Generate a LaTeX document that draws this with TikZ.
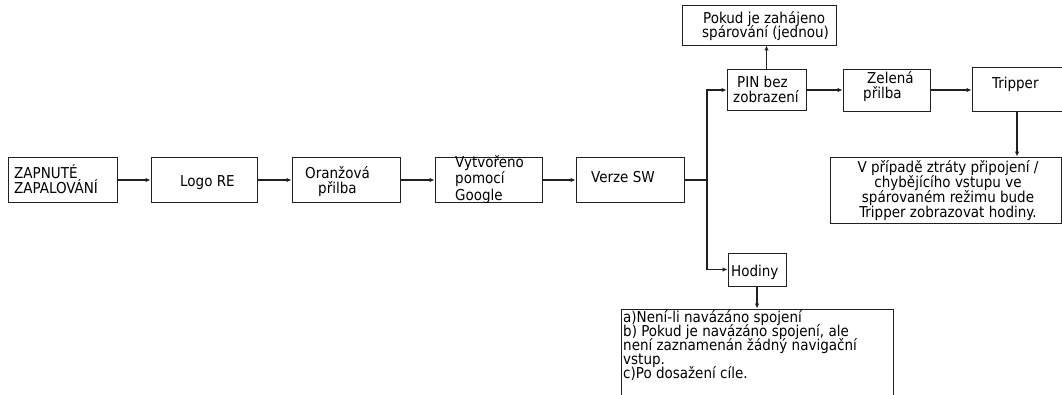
\documentclass[tikz,border=0pt]{standalone}
\usepackage{fontspec}
\setmainfont{DejaVu Sans Condensed}
\usetikzlibrary{arrows.meta}
\definecolor{ink}{HTML}{231F20}
\begin{document}
\begin{tikzpicture}[x=1pt,y=-1pt,
  box/.style={draw=ink,line width=0.9pt,rectangle,inner sep=0pt},
  txt/.style={anchor=base west,inner sep=0pt,font=\fontsize{15}{15}\selectfont,text=black},
  ctxt/.style={anchor=base,inner sep=0pt,font=\fontsize{15}{15}\selectfont,text=black},
  conn/.style={draw=ink,line width=1.3pt,-{Latex[length=5pt,width=4.5pt]}},
  plain/.style={draw=ink,line width=1.3pt}]
\clip (0,0) rectangle (1062,394);
% boxes
\node[box,minimum width=109pt,minimum height=45pt] (zap) at (62.5,180) {};
\node[box,minimum width=106pt,minimum height=45pt] (logo) at (204,180) {};
\node[box,minimum width=108pt,minimum height=45pt] (oran) at (346,180) {};
\node[box,minimum width=107pt,minimum height=45pt] (vytv) at (488.5,180) {};
\node[box,minimum width=108pt,minimum height=45pt] (verze) at (630,180) {};
\node[box,minimum width=79pt,minimum height=41pt] (pin) at (766.5,90) {};
\node[box,minimum width=154pt,minimum height=40pt] (pokud) at (759,25) {};
\node[box,minimum width=87pt,minimum height=42pt] (zel) at (886.5,90) {};
\node[box,minimum width=90pt,minimum height=44pt] (trip) at (1017,89) {};
\node[box,minimum width=231pt,minimum height=66pt] (vbox) at (945.5,190) {};
\node[box,minimum width=58pt,minimum height=33pt] (hod) at (757,269.5) {};
\node[box,minimum width=272pt,minimum height=100pt] (big) at (757,359) {};
% texts
\node[txt] (t1a) at (14,178) {ZAPNUTÉ};
\node[txt] (t1b) at (14,193) {ZAPALOVÁNÍ};
\node[txt] (t2) at (180,186) {Logo RE};
\node[txt] (t3a) at (305,178) {Oranžová};
\node[txt] (t3b) at (318,193) {přilba};
\node[txt] (t4a) at (455,167) {Vytvořeno};
\node[txt] (t4b) at (455,183) {pomocí};
\node[txt] (t4c) at (455,200) {Google};
\node[txt] (t5) at (591,182) {Verze SW};
\node[txt] (t6a) at (737,87) {PIN bez};
\node[txt] (t6b) at (733,102) {zobrazení};
\node[txt] (t7a) at (703,23) {Pokud je zahájeno};
\node[txt] (t7b) at (702,37) {spárování (jednou)};
\node[txt] (t8a) at (867,83) {Zelená};
\node[txt] (t8b) at (863,98) {přilba};
\node[txt] (t9) at (992,88) {Tripper};
\node[ctxt] (t10a) at (948,172) {V případě ztráty připojení /};
\node[ctxt] (t10b) at (948,187) {chybějícího vstupu ve};
\node[ctxt] (t10c) at (948,202) {spárovaném režimu bude};
\node[ctxt] (t10d) at (948,217) {Tripper zobrazovat hodiny.};
\node[txt] (t11) at (731,276) {Hodiny};
\node[txt] (t12a) at (623,322) {a)Není-li navázáno spojení};
\node[txt] (t12b) at (623,336) {b) Pokud je navázáno spojení, ale};
\node[txt] (t12c) at (623,350) {není zaznamenán žádný navigační};
\node[txt] (t12d) at (623,364) {vstup.};
\node[txt] (t12e) at (623,378) {c)Po dosažení cíle.};
% connectors
\draw[conn] (zap.east) -- (logo.west);
\draw[conn] (logo.east) -- (oran.west);
\draw[conn] (oran.east) -- (vytv.west);
\draw[conn] (vytv.east) -- (verze.west);
\coordinate (br) at (707,180);
\draw[plain] (verze.east) -- (br);
\draw[conn] (br) |- (pin.west);
\draw[conn] (br) |- (hod.west);
\draw[conn] (pin.north) -- (pin.north |- pokud.south);
\draw[conn] (pin.east) -- (zel.west);
\draw[conn] (zel.east) -- (zel.east -| trip.west);
\draw[conn] (trip.south) -- (trip.south |- vbox.north);
\draw[conn] (hod.south) -- (big.north);
\end{tikzpicture}
\end{document}
